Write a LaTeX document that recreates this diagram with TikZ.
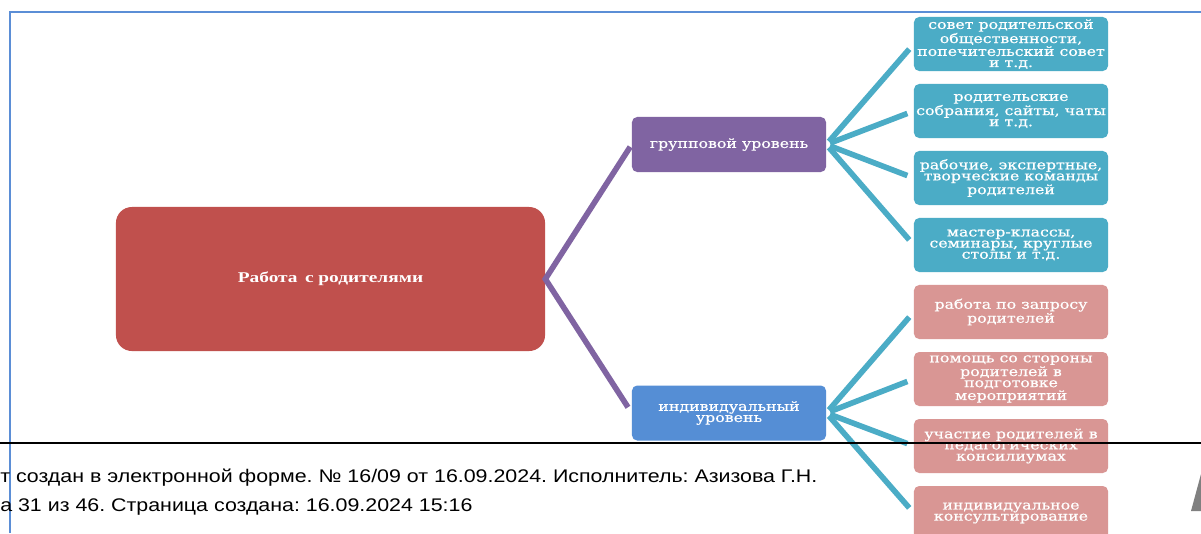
\documentclass[tikz,border=0pt]{standalone}
\usepackage{fontspec}
\newfontfamily\boxfont[FakeStretch=1.22,FakeBold=0.6]{DejaVu Serif}
\newfontfamily\rootfont[FakeStretch=1.3]{Liberation Serif}
\newfontfamily\footfont[FakeStretch=1.17]{Liberation Sans}
\definecolor{rootred}{HTML}{C0504D}
\definecolor{grpviolet}{HTML}{8064A2}
\definecolor{indblue}{HTML}{558ED5}
\definecolor{tealbox}{HTML}{4BACC6}
\definecolor{pinkbox}{HTML}{D99694}
\definecolor{framblue}{HTML}{5B8ED6}
\tikzset{
  leafbox/.style={rectangle,rounded corners=0.13cm,minimum width=4.85cm,minimum height=1.35cm,
    inner xsep=0pt,inner ysep=1pt,align=center,text=white,font=\boxfont\fontsize{9.2}{7.9}\selectfont},
  levelbox/.style={leafbox,minimum height=1.375cm},
  branch/.style={line width=4pt,shorten <=0.1cm,shorten >=0.17cm}
}
\begin{document}
\frenchspacing
\begin{tikzpicture}[x=0.025cm,y=-0.025cm]
\clip (0,0) rectangle (1201,533);
\fill[white] (0,0) rectangle (1201,533);
\draw[framblue,line width=1.6pt] (10,533) -- (10,12) -- (1201,12);
\node[rectangle,rounded corners=0.4cm,fill=rootred,minimum width=10.725cm,minimum height=3.6cm,
  text=white,font=\rootfont\bfseries\fontsize{10.6}{12}\selectfont] (root) at (330.5,279) {Работа \,с родителями};
\node[levelbox,fill=grpviolet] (grp) at (729,144.5) {групповой уровень};
\node[levelbox,fill=indblue] (ind) at (729,413) {индивидуальный\\уровень};
\node[leafbox,fill=tealbox] (t1) at (1011,44) {совет родительской\\общественности,\\попечительский совет\\и т.д.};
\node[leafbox,fill=tealbox] (t2) at (1011,111) {родительские\\собрания, сайты, чаты\\и т.д.};
\node[leafbox,fill=tealbox] (t3) at (1011,178) {рабочие, экспертные,\\творческие команды\\родителей};
\node[leafbox,fill=tealbox] (t4) at (1011,245) {мастер-классы,\\семинары, круглые\\столы и т.д.};
\node[leafbox,fill=pinkbox] (p1) at (1011,312) {работа по запросу\\родителей};
\node[leafbox,fill=pinkbox] (p2) at (1011,379) {помощь со стороны\\родителей в\\подготовке\\мероприятий};
\node[leafbox,fill=pinkbox] (p3) at (1011,446) {участие родителей в\\педагогических\\консилиумах};
\node[leafbox,fill=pinkbox] (p4) at (1011,513) {индивидуальное\\консультирование};
\draw[branch,grpviolet,shorten <=0.07cm] (grp.west) -- (root.east) -- (ind.west);
\foreach \b in {t1,t2,t3,t4}
  \draw[branch,tealbox] (grp.east) -- (\b.west);
\foreach \b in {p1,p2,p3,p4}
  \draw[branch,tealbox] (ind.east) -- (\b.west);
\draw[line width=1.8pt] (0,443) -- (1201,443);
\node[anchor=west,inner sep=0pt,font=\footfont\fontsize{13}{15}\selectfont] (foot1) at (0,478)
  {т создан в электронной форме. № 16/09 от 16.09.2024. Исполнитель: Азизова Г.Н.};
\node[anchor=west,inner sep=0pt,font=\footfont\fontsize{13}{15}\selectfont] (foot2) at (0,507)
  {а 31 из 46. Страница создана: 16.09.2024 15:16};
\fill[gray] (1191,511) -- (1201,474) -- (1201,511) -- cycle;
\end{tikzpicture}
\end{document}
